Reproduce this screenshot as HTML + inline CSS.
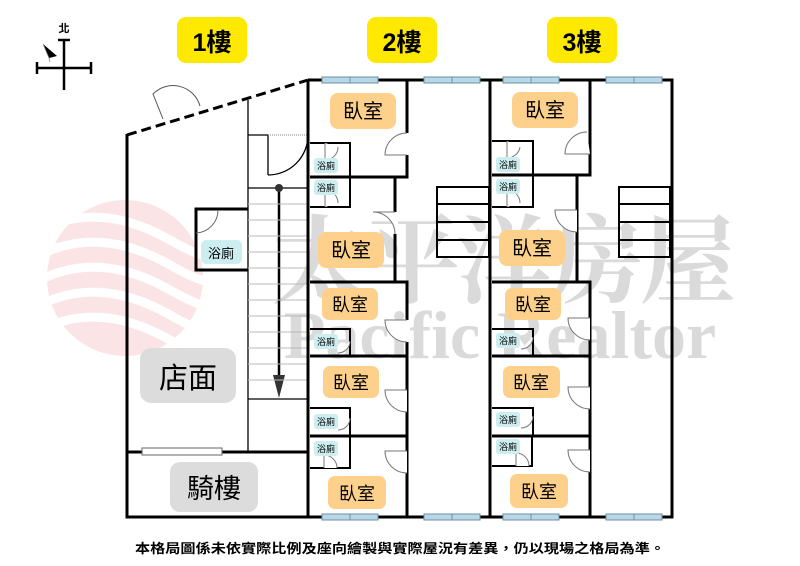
<!DOCTYPE html>
<html><head><meta charset="utf-8"><style>
html,body{margin:0;padding:0;background:#fff;width:800px;height:566px;overflow:hidden}
svg{display:block}
text{font-family:"Liberation Sans","Noto Sans CJK TC",sans-serif}
</style></head><body>
<svg width="800" height="566" viewBox="0 0 800 566" xmlns="http://www.w3.org/2000/svg">
<!-- logo watermark -->
<g opacity="0.22">
<circle cx="125" cy="278" r="78" fill="#f08890"/>
<g fill="none" stroke="#fff" stroke-width="9">
<path d="M40 230 Q100 200 170 240 T220 230"/>
<path d="M40 255 Q100 225 170 265 T220 255"/>
<path d="M40 280 Q100 250 170 290 T220 280"/>
<path d="M40 305 Q100 275 170 315 T220 305"/>
<path d="M40 330 Q100 300 170 340 T220 330"/>
</g>
</g>
<text x="502" y="295" font-size="96" text-anchor="middle" fill="#dadada" style="font-family:'Noto Serif CJK SC',serif;font-weight:bold;letter-spacing:-4px">太平洋房屋</text>
<text x="500" y="358" font-size="68" text-anchor="middle" fill="#dadada" style="font-family:'Liberation Serif',serif;font-weight:bold">Pacific Realtor</text>

<!-- compass -->
<text x="64" y="32" font-size="11" font-weight="bold" text-anchor="middle">北</text>
<g stroke="#000" stroke-width="2.5" fill="none">
<line x1="64" y1="40" x2="64" y2="90"/><line x1="37" y1="68" x2="91" y2="68"/>
<line x1="58" y1="40" x2="70" y2="40"/><line x1="37" y1="62" x2="37" y2="74"/><line x1="91" y1="62" x2="91" y2="74"/>
</g>
<path d="M43 44 L57 56 L49 58 Z" fill="#000"/><path d="M43 44 L49 58 L50 62" fill="none" stroke="#888" stroke-width="0.8"/>

<!-- floor labels -->
<rect x="177" y="17" width="70" height="46" rx="9" fill="#ffe900"/>
<text x="212" y="51" font-size="25" font-weight="bold" text-anchor="middle">1樓</text>
<rect x="367" y="17" width="70" height="46" rx="9" fill="#ffe900"/>
<text x="402" y="51" font-size="25" font-weight="bold" text-anchor="middle">2樓</text>
<rect x="547" y="17" width="70" height="46" rx="9" fill="#ffe900"/>
<text x="582" y="51" font-size="25" font-weight="bold" text-anchor="middle">3樓</text>

<!-- 1F -->
<line x1="127" y1="135" x2="308" y2="80" stroke="#000" stroke-width="3" stroke-dasharray="10,5"/>
<g stroke="#000" stroke-width="3" fill="none">
<polyline points="127,134 127,517 308,517"/>
<line x1="127" y1="452" x2="308" y2="452"/>
<polyline points="248,209 196,209 196,270 248,270"/>
</g>
<rect x="142" y="448" width="80" height="7" fill="#fff" stroke="#666" stroke-width="1"/>
<g stroke="#000" stroke-width="1.3" fill="none">
<line x1="248" y1="100" x2="248" y2="452"/>
<polyline points="248,135 268,135 268,175"/>
<line x1="248" y1="188" x2="308" y2="188"/>
<line x1="248" y1="399" x2="308" y2="399"/>
<path d="M268 175 A40 40 0 0 0 308 135"/>
<line x1="279" y1="188" x2="279" y2="378" stroke-width="2.5"/>
<path d="M196 233 A23 23 0 0 0 218 210" stroke="#666" stroke-width="1"/>
<path d="M163 119 L153 94 A28 28 0 0 1 200 106" stroke="#555" stroke-width="1"/>
</g>
<line x1="268" y1="135" x2="308" y2="135" stroke="#888" stroke-dasharray="1,1"/>
<circle cx="279" cy="188" r="4" fill="#333"/>
<path d="M273 375 L285 375 L279 398 Z" fill="#333"/>
<g stroke="#bbb" stroke-width="1">
<line x1="248" y1="204" x2="308" y2="204"/><line x1="248" y1="220" x2="308" y2="220"/><line x1="248" y1="236" x2="308" y2="236"/>
<line x1="248" y1="252" x2="308" y2="252"/><line x1="248" y1="268" x2="308" y2="268"/><line x1="248" y1="284" x2="308" y2="284"/>
<line x1="248" y1="300" x2="308" y2="300"/><line x1="248" y1="316" x2="308" y2="316"/><line x1="248" y1="332" x2="308" y2="332"/>
<line x1="248" y1="348" x2="308" y2="348"/><line x1="248" y1="364" x2="308" y2="364"/><line x1="248" y1="380" x2="308" y2="380"/>
</g>

<!-- 2F & 3F walls -->
<g stroke="#000" stroke-width="3" fill="none">
<polyline points="308,80 672,80 672,517 308,517 308,80"/>
<line x1="490" y1="80" x2="490" y2="517"/>
<polyline points="407,80 407,177 310,177"/>
<polyline points="395,177 395,282"/>
<polyline points="310,282 407,282 407,517"/>
<line x1="310" y1="356" x2="407" y2="356"/>
<line x1="310" y1="436" x2="407" y2="436"/>
<polyline points="590,80 590,175 492,175"/>
<line x1="577" y1="175" x2="577" y2="282"/>
<polyline points="492,282 590,282 590,517"/>
<line x1="492" y1="356" x2="590" y2="356"/>
<line x1="492" y1="436" x2="590" y2="436"/>
</g>
<g stroke="#000" stroke-width="2" fill="none">
<polyline points="310,143 350,143 350,207 310,207"/>
<polyline points="310,329 350,329 350,356"/>
<polyline points="310,408 350,408 350,436"/>
<polyline points="350,436 350,468 310,468"/>
<polyline points="492,141 533,141 533,207 492,207"/>
<polyline points="492,329 533,329 533,356"/>
<polyline points="492,408 533,408 533,436"/>
<polyline points="532,436 532,466 492,466"/>
<rect x="437" y="187" width="52" height="70"/><line x1="437" y1="204" x2="489" y2="204"/><line x1="437" y1="222" x2="489" y2="222"/><line x1="437" y1="240" x2="489" y2="240"/>
<rect x="619" y="187" width="51" height="70"/><line x1="619" y1="204" x2="670" y2="204"/><line x1="619" y1="222" x2="670" y2="222"/><line x1="619" y1="240" x2="670" y2="240"/>
</g>
<!-- doors -->
<g stroke="#777" stroke-width="1" fill="#fff">
<rect x="404" y="133" width="6" height="22" stroke="none"/>
<path d="M407 133 A22 22 0 0 0 385 155 L407 155" />
<rect x="392" y="212" width="6" height="22" stroke="none"/>
<path d="M395 234 A22 22 0 0 0 373 212 L395 212"/>
<rect x="404" y="320" width="6" height="22" stroke="none"/>
<path d="M407 342 A22 22 0 0 1 385 320 L407 320"/>
<path d="M407 412 A22 22 0 0 1 385 390 L407 390"/>
<path d="M407 473 A22 22 0 0 1 385 451 L407 451"/>
<path d="M587 132 A22 22 0 0 0 565 154 L590 154"/>
<path d="M577 232 A22 22 0 0 1 555 210 L577 210"/>
<path d="M590 340 A22 22 0 0 1 568 318 L590 318"/>
<path d="M590 409 A22 22 0 0 1 568 387 L590 387"/>
<path d="M590 472 A22 22 0 0 1 568 450 L590 450"/>
<path d="M325 143 L325 160 A13 13 0 0 0 338 147"/>
<path d="M325 207 L325 190 A13 13 0 0 1 338 203"/>
<path d="M350 341 A12 12 0 0 1 338 353"/>
<path d="M350 418 A12 12 0 0 1 338 430"/>
<path d="M324 468 L324 455 A13 13 0 0 1 337 468"/>
<path d="M507 141 L507 158 A13 13 0 0 0 520 147"/>
<path d="M507 207 L507 190 A13 13 0 0 1 520 203"/>
<path d="M533 337 A12 12 0 0 1 521 349"/>
<path d="M533 416 A12 12 0 0 1 521 428"/>
<path d="M516 466 L516 453 A13 13 0 0 1 529 466"/>
</g>
<!-- windows -->
<g fill="#b8d8e8" stroke="#6d8fa0" stroke-width="1">
<rect x="322" y="77" width="56" height="6"/><rect x="424" y="77" width="56" height="6"/>
<rect x="503" y="77" width="56" height="6"/><rect x="606" y="77" width="56" height="6"/>
<rect x="322" y="514" width="56" height="6"/><rect x="424" y="514" width="56" height="6"/>
<rect x="503" y="514" width="56" height="6"/><rect x="606" y="514" width="56" height="6"/>
</g>
<g stroke="#6d8fa0"><line x1="350" y1="77" x2="350" y2="83"/><line x1="452" y1="77" x2="452" y2="83"/><line x1="531" y1="77" x2="531" y2="83"/><line x1="634" y1="77" x2="634" y2="83"/>
<line x1="350" y1="514" x2="350" y2="520"/><line x1="452" y1="514" x2="452" y2="520"/><line x1="531" y1="514" x2="531" y2="520"/><line x1="634" y1="514" x2="634" y2="520"/></g>

<!-- room labels -->
<g font-size="20" text-anchor="middle">
<rect x="330" y="93" width="66" height="36" rx="8" fill="#fdd08c"/><text x="363" y="118">臥室</text>
<rect x="318" y="232" width="66" height="36" rx="8" fill="#fdd08c"/><text x="351" y="257">臥室</text>
<rect x="322" y="288" width="56" height="32" rx="7" fill="#fdd08c"/><text x="350" y="311" font-size="18">臥室</text>
<rect x="323" y="366" width="56" height="32" rx="7" fill="#fdd08c"/><text x="351" y="389" font-size="18">臥室</text>
<rect x="328" y="476" width="58" height="33" rx="7" fill="#fdd08c"/><text x="357" y="500" font-size="18">臥室</text>
<rect x="512" y="92" width="66" height="36" rx="8" fill="#fdd08c"/><text x="545" y="117">臥室</text>
<rect x="499" y="230" width="66" height="36" rx="8" fill="#fdd08c"/><text x="532" y="255">臥室</text>
<rect x="505" y="288" width="56" height="32" rx="7" fill="#fdd08c"/><text x="533" y="311" font-size="18">臥室</text>
<rect x="503" y="366" width="57" height="32" rx="7" fill="#fdd08c"/><text x="531" y="389" font-size="18">臥室</text>
<rect x="510" y="474" width="58" height="34" rx="7" fill="#fdd08c"/><text x="539" y="498" font-size="18">臥室</text>
</g>
<g font-size="9" text-anchor="middle">
<rect x="314" y="158" width="24" height="15" rx="3" fill="#cdeef0"/><text x="326" y="169">浴廁</text>
<rect x="314" y="180" width="24" height="15" rx="3" fill="#cdeef0"/><text x="326" y="191">浴廁</text>
<rect x="314" y="334" width="24" height="15" rx="3" fill="#cdeef0"/><text x="326" y="345">浴廁</text>
<rect x="314" y="414" width="24" height="15" rx="3" fill="#cdeef0"/><text x="326" y="425">浴廁</text>
<rect x="314" y="441" width="24" height="15" rx="3" fill="#cdeef0"/><text x="326" y="452">浴廁</text>
<rect x="496" y="157" width="24" height="15" rx="3" fill="#cdeef0"/><text x="508" y="168">浴廁</text>
<rect x="496" y="179" width="24" height="15" rx="3" fill="#cdeef0"/><text x="508" y="190">浴廁</text>
<rect x="496" y="333" width="24" height="15" rx="3" fill="#cdeef0"/><text x="508" y="344">浴廁</text>
<rect x="496" y="412" width="24" height="15" rx="3" fill="#cdeef0"/><text x="508" y="423">浴廁</text>
<rect x="496" y="439" width="24" height="15" rx="3" fill="#cdeef0"/><text x="508" y="450">浴廁</text>
</g>
<rect x="201" y="240" width="41" height="24" rx="5" fill="#cdeef0"/><text x="221" y="258" font-size="13" text-anchor="middle">浴廁</text>
<rect x="140" y="348" width="96" height="55" rx="11" fill="#dcdcdc"/><text x="188" y="388" font-size="29" text-anchor="middle">店面</text>
<rect x="170" y="462" width="88" height="50" rx="10" fill="#dcdcdc"/><text x="214" y="498" font-size="27" text-anchor="middle">騎樓</text>

<text x="400" y="553" font-size="13" font-weight="bold" text-anchor="middle" textLength="530" lengthAdjust="spacingAndGlyphs">本格局圖係未依實際比例及座向繪製與實際屋況有差異，仍以現場之格局為準。</text>
</svg>
</body></html>
